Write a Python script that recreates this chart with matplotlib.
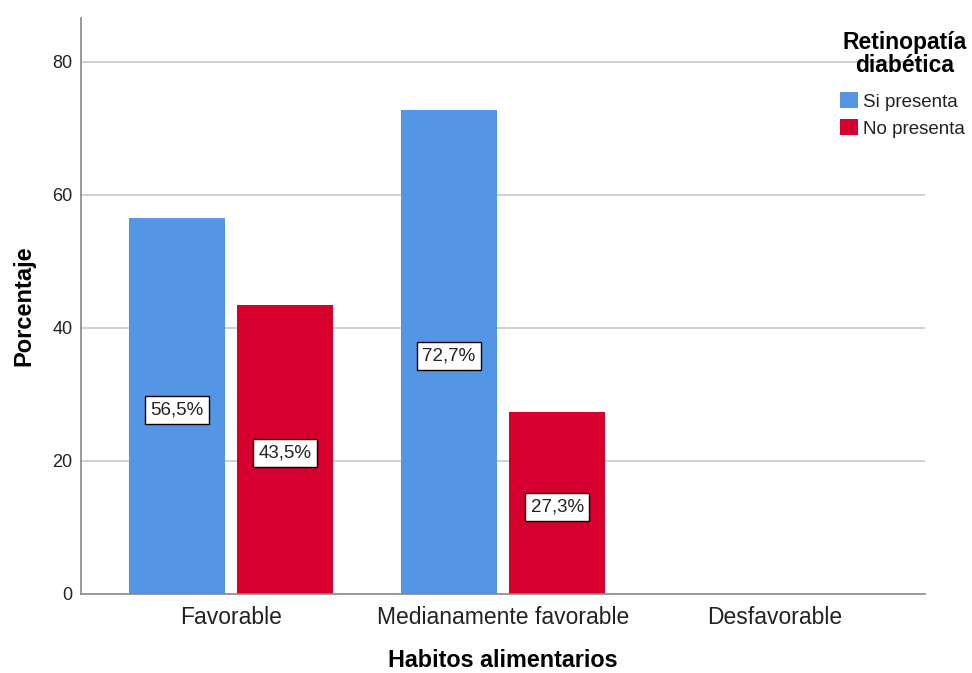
import numpy as np
import matplotlib.pyplot as plt

plt.rcParams['font.family'] = ['Liberation Sans', 'DejaVu Sans']

categories = ['Favorable', 'Medianamente favorable', 'Desfavorable']
si_presenta = [56.5, 72.7, np.nan]
no_presenta = [43.5, 27.3, np.nan]
series_names = ['Si presenta', 'No presenta']
colors = ['#5596e4', '#d5002d']


def pct(v):
    return f'{v:.1f}%'.replace('.', ',')


fig = plt.figure(figsize=(9.72, 6.73), dpi=100)
ax = fig.add_axes([81 / 972, 1 - 594 / 673, 844 / 972, 576 / 673])

x = np.arange(len(categories))
width = 0.353
offset = 0.199
for vals, off, col, name in zip([si_presenta, no_presenta], [-offset, offset],
                                colors, series_names):
    bars = ax.bar(x + off, vals, width, color=col, label=name, zorder=2)
    for b, v in zip(bars, vals):
        if np.isnan(v):
            continue
        ax.text(b.get_x() + b.get_width() / 2, v / 2 - 0.6, pct(v),
                ha='center', va='center', fontsize=13.5, color='#222222',
                zorder=3,
                bbox=dict(boxstyle='square,pad=0.3', fc='white', ec='black',
                          lw=1))

ax.set_xlim(-0.551, 2.551)
ax.set_ylim(0, 86.6)
ax.set_yticks([0, 20, 40, 60, 80])
ax.set_xticks(x)
ax.set_xticklabels(categories, fontsize=16.5, color='#222222')
ax.tick_params(axis='y', length=0, labelsize=13, pad=6, labelcolor='#222222')
ax.tick_params(axis='x', length=0, pad=9)
for y in [20, 40, 60, 80]:
    ax.axhline(y, color='#c8c8c8', lw=1.2, zorder=1)
for s in ['top', 'right']:
    ax.spines[s].set_visible(False)
for s in ['left', 'bottom']:
    ax.spines[s].set_color('#888888')
    ax.spines[s].set_linewidth(1.2)

ax.set_xlabel('Habitos alimentarios', fontsize=16.8, fontweight='bold',
              labelpad=14)
ax.set_ylabel('Porcentaje', fontsize=17, fontweight='bold', labelpad=12)

# legend title drawn separately so it sits centred above the entries
fig.text(905 / 972, 1 - 31 / 673, 'Retinopatía\ndiabética', ha='center',
         va='top', fontsize=16.5, fontweight='bold', linespacing=1.0)
fig.legend(loc='upper left', bbox_to_anchor=(840 / 972, 1 - 92 / 673),
           frameon=False, borderpad=0, borderaxespad=0,
           fontsize=13.5, handlelength=0.95, handleheight=0.95,
           handletextpad=0.3, labelspacing=0.45, labelcolor='#222222')

fig.savefig('out.png', dpi=100)
